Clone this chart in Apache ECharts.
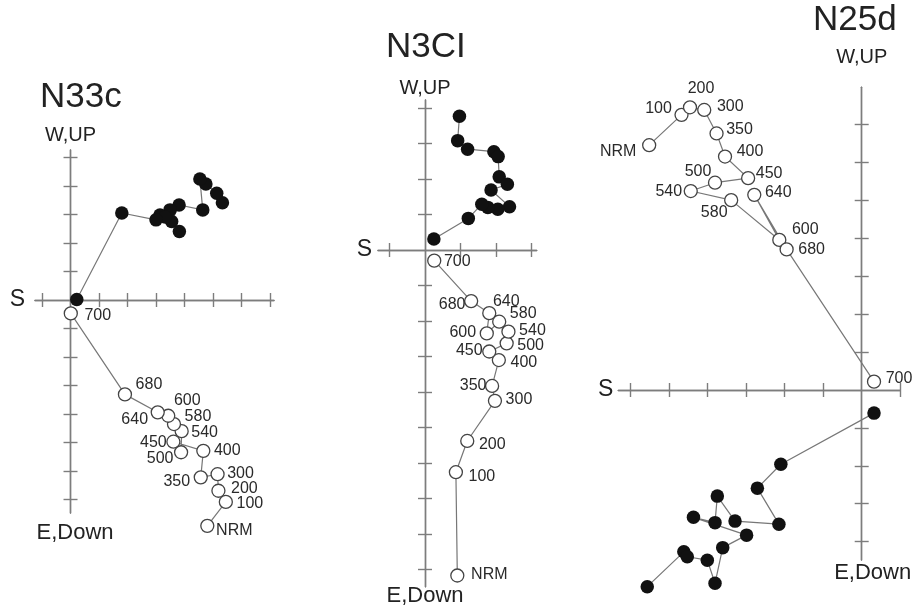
<!DOCTYPE html>
<html>
<head>
<meta charset="utf-8">
<script src="https://cdn.jsdelivr.net/npm/echarts@6/dist/echarts.min.js"></script>
<style>html,body{margin:0;padding:0;background:#fff}#chart{width:921px;height:616px}</style>
</head>
<body>
<div id="chart"></div>
<script>
// Demagnetisation steps (same order for every specimen)
const steps = ['NRM','100','200','300','350','400','450','500','540','580','600','640','680','700'];

// Specimen names
const specimens = ['N33c', 'N3CI', 'N25d'];

// N33c: horizontal projection (closed) and vertical projection (open), axis units
const n33cClosed = [[5.33,3.41],[5.13,3.74],[4.75,4.07],[4.54,4.24],[4.64,3.16],[3.81,3.33],[3.55,2.75],[3.82,2.40],[3.49,3.16],[3.14,2.98],[3.32,2.91],[3.00,2.81],[1.80,3.05],[0.22,0.02]];
const n33cOpen = [[4.80,-7.92],[5.45,-7.08],[5.19,-6.69],[5.16,-6.11],[4.57,-6.22],[4.66,-5.29],[3.61,-4.97],[3.88,-5.34],[3.90,-4.60],[3.63,-4.35],[3.43,-4.06],[3.06,-3.94],[1.91,-3.31],[0.01,-0.47]];

// N3CI
const n3ciClosed = [[0.97,3.77],[0.92,3.08],[1.20,2.84],[1.94,2.77],[2.06,2.63],[2.09,2.06],[2.32,1.85],[1.86,1.69],[2.38,1.22],[2.05,1.15],[1.77,1.20],[1.60,1.29],[1.22,0.89],[0.25,0.31]];
const n3ciOpen = [[0.91,-9.17],[0.87,-6.26],[1.19,-5.38],[1.97,-4.25],[1.89,-3.83],[2.08,-3.10],[1.81,-2.86],[2.30,-2.63],[2.35,-2.30],[2.09,-2.02],[1.74,-2.35],[1.81,-1.78],[1.30,-1.44],[0.26,-0.30]];

// N25d
const n25dOpen = [[-5.52,6.46],[-4.68,7.26],[-4.46,7.46],[-4.09,7.39],[-3.77,6.77],[-3.55,6.16],[-2.95,5.59],[-3.81,5.47],[-4.44,5.25],[-3.39,5.01],[-2.14,3.96],[-2.79,5.15],[-1.95,3.71],[0.32,0.22]];
const n25dClosed = [[-5.57,-5.19],[-4.62,-4.27],[-4.53,-4.40],[-4.01,-4.49],[-3.81,-5.10],[-3.61,-4.16],[-2.99,-3.83],[-4.37,-3.36],[-3.81,-3.50],[-3.75,-2.80],[-3.29,-3.46],[-2.15,-3.54],[-2.71,-2.59],[-2.10,-1.96],[0.32,-0.61]];

// Tick positions (axis units)
const n33cXTicks = [-1,1,2,3,4,5,6,7];
const n33cYTicks = [-7,-6,-5,-4,-3,-2,-1,1,2,3,4,5];
const n3ciXTicks = [-1,1,2,3];
const n3ciYTicks = [-9,-8,-7,-6,-5,-4,-3,-2,-1,1,2,3,4];
const n25dXTicks = [-6,-5,-4,-3,-2,-1,1];
const n25dYTicks = [-4,-3,-2,-1,1,2,3,4,5,6,7,8];

// Axis names
const axisNames = { west: 'W,UP', down: 'E,Down', south: 'S' };

// ---------- layout / style (kept apart from the data) ----------
const FONT = '"Liberation Sans", Arial, sans-serif';
const AXIS_COLOR = '#7d7d7d';
const panels = [
  { grid:{left:35, top:150, width:239, height:363}, x:[-1.246,7.14], y:[-7.47,5.26],
    xt:n33cXTicks, yt:n33cYTicks, closed:n33cClosed, open:n33cOpen,
    title:{left:40, top:80}, upGap:5, downGap:9, downPad:9, sGap:10,
    labelOff:{'700':[27,2],'680':[24,-10],'640':[-23,7],'600':[19,-15],'580':[24,-7],'540':[23,1],
              '450':[-20,1],'500':[-21,6],'400':[24,0],'350':[-24,4],'300':[23,-1],'200':[26,-2],'100':[24,2],'NRM':[27,5]} },
  { grid:{left:378, top:100, width:158.7, height:486.7}, x:[-1.324,3.146], y:[-9.485,4.225],
    xt:n3ciXTicks, yt:n3ciYTicks, closed:n3ciClosed, open:n3ciOpen,
    title:{left:386, top:30}, upGap:2, downGap:-2, downPad:0, sGap:6,
    labelOff:{'700':[23,1],'680':[-19,3],'640':[17,-12],'580':[24,-8],'600':[-24,-1],'540':[24,-1],
              '500':[24,2],'450':[-20,-1],'400':[25,3],'350':[-19,0],'300':[24,-1],'200':[25,4],'100':[26,4],'NRM':[32,-1]} },
  { grid:{left:618.3, top:87.2, width:281.9, height:472.8}, x:[-6.322,1.0], y:[-4.486,7.99],
    xt:n25dXTicks, yt:n25dYTicks, closed:n25dClosed, open:n25dOpen,
    title:{left:813, top:3}, upGap:20, downGap:2, downPad:22, sGap:5,
    labelOff:{'NRM':[-31,6],'100':[-23,-6],'200':[11,-19],'300':[26,-3],'350':[23,-4],'400':[25,-5],
              '450':[21,-5],'500':[-17,-11],'540':[-22,1],'580':[-17,12],'640':[24,-2],'600':[26,-10],'680':[25,0],'700':[25,-3]} }
];

const grids = [], xAxes = [], yAxes = [], series = [], titles = [];
panels.forEach((p, g) => {
  grids.push(Object.assign({containLabel:false}, p.grid));
  titles.push({text: specimens[g], left: p.title.left, top: p.title.top, padding: 0,
    textStyle:{fontFamily:FONT, fontSize:35, fontWeight:'normal', color:'#222'}});
  const lineStyle = {color: AXIS_COLOR, width: 1.4};
  [false, true].forEach((inside, k) => {
    xAxes.push({
      type:'value', gridIndex:g, position:'bottom', min:p.x[0], max:p.x[1],
      axisLine:{show:true, onZero:true, lineStyle},
      axisTick:{show:true, inside, length:7, customValues:p.xt, lineStyle},
      axisLabel:{show:false}, splitLine:{show:false},
      name: k === 0 ? axisNames.south : '', nameLocation:'start', nameGap:p.sGap,
      nameTextStyle:{fontFamily:FONT, fontSize:23, color:'#222'}
    });
    yAxes.push({
      type:'value', gridIndex:g, position:'left', min:p.y[0], max:p.y[1],
      axisLine:{show:true, onZero:true, lineStyle},
      axisTick:{show:true, inside, length:7, customValues:p.yt, lineStyle},
      axisLabel:{show:false}, splitLine:{show:false},
      name: k === 0 ? axisNames.west : axisNames.down,
      nameLocation: k === 0 ? 'end' : 'start',
      nameGap: k === 0 ? p.upGap : p.downGap,
      nameTextStyle: k === 0
        ? {fontFamily:FONT, fontSize:20, color:'#222'}
        : {fontFamily:FONT, fontSize:22, color:'#222', padding:[0,0,0,p.downPad]}
    });
  });
  // closed symbols (horizontal plane)
  series.push({
    type:'line', xAxisIndex:2*g, yAxisIndex:2*g, clip:false, animation:false,
    symbol:'circle', symbolSize:13.5, showAllSymbol:true,
    lineStyle:{color:'#777', width:1.2},
    itemStyle:{color:'#111', borderColor:'#111', borderWidth:0},
    data: p.closed.map(v => ({value:v})), z:3
  });
  // open symbols (vertical plane) with step labels
  series.push({
    type:'line', xAxisIndex:2*g, yAxisIndex:2*g, clip:false, animation:false,
    symbol:'circle', symbolSize:13, showAllSymbol:true,
    lineStyle:{color:'#777', width:1.2},
    itemStyle:{color:'#fff', borderColor:'#444', borderWidth:1.3},
    data: p.open.map((v, i) => ({
      value:v, name:steps[i],
      label:{show:true, position:'inside', offset:p.labelOff[steps[i]] || [22,0],
        formatter:steps[i], fontFamily:FONT, fontSize:16, color:'#2a2a2a', align:'center', verticalAlign:'middle'}
    })), z:4
  });
});

const chart = echarts.init(document.getElementById('chart'), null, {renderer:'canvas'});
chart.setOption({
  animation:false, backgroundColor:'#fff',
  title:titles, grid:grids, xAxis:xAxes, yAxis:yAxes, series
});
</script>
</body>
</html>
